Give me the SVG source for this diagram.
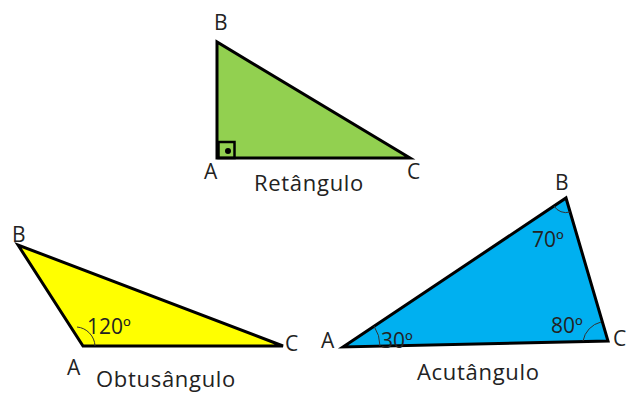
<svg xmlns="http://www.w3.org/2000/svg" width="627" height="394" viewBox="0 0 627 394">
<style>
.t{font-family:"Open Sans","Noto Sans",sans-serif;font-size:21px;fill:#222}
.l{font-size:22px;letter-spacing:0.7px}
.tri{stroke:#000;stroke-width:3;stroke-linejoin:miter}
.arc{fill:none;stroke:#333;stroke-width:1}
</style>
<rect width="627" height="394" fill="#fff"/>
<g id="retangulo">
<polygon class="tri" points="217,42 217,158 410,158" fill="#92D050"/>
<rect x="218.5" y="142" width="16" height="16" fill="none" stroke="#000" stroke-width="2.5"/>
<circle cx="228" cy="151" r="3" fill="#000"/>
<text class="t" x="214" y="30">B</text>
<text class="t" x="204" y="179">A</text>
<text class="t" x="407" y="179">C</text>
<text class="t l" x="254" y="191">Retângulo</text>
</g>
<g id="obtusangulo">
<polygon class="tri" points="18,245 83,346 283,346" fill="#FFFF00"/>
<path class="arc" d="M77,327 A20,20 0 0 1 95,346"/>
<text class="t" x="87" y="334">120º</text>
<text class="t" x="12" y="242">B</text>
<text class="t" x="285" y="351">C</text>
<text class="t" x="67" y="375">A</text>
<text class="t l" x="96" y="387">Obtusângulo</text>
</g>
<g id="acutangulo">
<polygon class="tri" points="343,347 566,198 608,341" fill="#00B0F0"/>
<path class="arc" d="M374,326 A37,37 0 0 1 380,346"/>
<path class="arc" d="M554,206 A14,14 0 0 0 570,212"/>
<path class="arc" d="M583,341 A24,24 0 0 1 601,322"/>
<text class="t" x="381" y="348">30º</text>
<text class="t" x="532" y="247">70º</text>
<text class="t" x="551" y="333">80º</text>
<text class="t" x="321" y="348">A</text>
<text class="t" x="555" y="190">B</text>
<text class="t" x="613" y="346">C</text>
<text class="t l" x="417" y="380">Acutângulo</text>
</g>
</svg>
